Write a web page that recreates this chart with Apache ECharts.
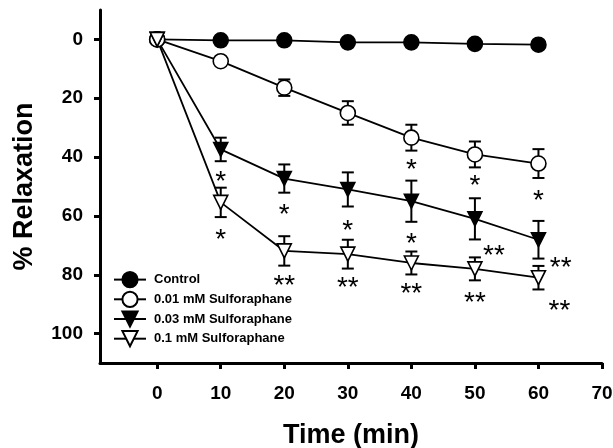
<!DOCTYPE html>
<html>
<head>
<meta charset="utf-8">
<script src="https://cdn.jsdelivr.net/npm/echarts@6/dist/echarts.min.js"></script>
<style>
  html, body { margin: 0; padding: 0; background: #fff; }
  #chart { width: 613px; height: 448px; }
</style>
</head>
<body>
<div id="chart"></div>
<script>
// time points (min)
const times = [0, 10, 20, 30, 40, 50, 60];

// % relaxation means and error bars
const control = [0, 0.3, 0.3, 1, 1, 1.5, 1.8];
const controlErr = [0, 0, 0, 0, 0, 0, 0];
const sfn001 = [0, 7.4, 16.4, 25, 33.4, 39.1, 42.2];
const sfn001Err = [0, 1, 2.8, 4, 4.4, 4.4, 4.9];
const sfn003 = [0, 37.4, 47.3, 51, 55, 61, 68.1];
const sfn003Err = [0, 4, 4.8, 5.8, 7, 7, 6.4];
const sfn01 = [0, 55.4, 71.9, 73, 76, 78, 81];
const sfn01Err = [0, 5, 5, 4.9, 3.9, 3.9, 4];

// significance marks
const starX = [10, 10, 20, 30, 40, 40, 50, 60, 20, 30, 40, 53, 50, 63.5, 63.3];
const starY = [46.4, 66.2, 57.9, 63.1, 42.5, 67.6, 48, 53.1, 81.8, 82.7, 84.7, 71.7, 87.6, 75.9, 90.4];
const starText = ['*', '*', '*', '*', '*', '*', '*', '*', '**', '**', '**', '**', '**', '**', '**'];

const xTicks = [0, 10, 20, 30, 40, 50, 60, 70];
const yTicks = [0, 20, 40, 60, 80, 100];

const FONT = '"Liberation Sans", Arial, sans-serif';

const chart = echarts.init(document.getElementById('chart'));

function pairs(vals) {
  return times.map((t, i) => [t, vals[i]]);
}

function errSeries(vals, errs) {
  return {
    type: 'custom',
    z: 1,
    silent: true,
    data: times.map((t, i) => [t, vals[i], errs[i]]),
    renderItem: function (params, api) {
      const x = api.value(0), y = api.value(1), e = api.value(2);
      if (!e) return null;
      const top = api.coord([x, y - e]);
      const bot = api.coord([x, y + e]);
      const cap = 6;
      const st = { stroke: '#000', lineWidth: 2 };
      return {
        type: 'group',
        children: [
          { type: 'line', shape: { x1: top[0], y1: top[1], x2: bot[0], y2: bot[1] }, style: st },
          { type: 'line', shape: { x1: top[0] - cap, y1: top[1], x2: top[0] + cap, y2: top[1] }, style: st },
          { type: 'line', shape: { x1: bot[0] - cap, y1: bot[1], x2: bot[0] + cap, y2: bot[1] }, style: st }
        ]
      };
    }
  };
}

function lineSeries(name, vals, symbol, fill, rotate) {
  return {
    name: name,
    type: 'line',
    z: 3,
    data: pairs(vals),
    symbol: symbol,
    symbolSize: symbol === 'circle' ? 15 : 14,
    symbolRotate: rotate || 0,
    showSymbol: true,
    lineStyle: { color: '#000', width: 1.8 },
    itemStyle: { color: fill, borderColor: '#000', borderWidth: 1.6 },
    emphasis: { disabled: true }
  };
}

const option = {
  backgroundColor: '#fff',
  animation: false,
  grid: { left: 100, right: 11, top: 10, bottom: 85, outerBoundsMode: 'none' },
  legend: {
    orient: 'vertical',
    left: 113,
    top: 271,
    padding: 0,
    itemWidth: 32,
    itemHeight: 19,
    itemGap: 2.5,
    textStyle: { fontFamily: FONT, fontWeight: 'bold', fontSize: 13, color: '#000', padding: [0, 0, 0, 3] },
    data: ['Control', '0.01 mM Sulforaphane', '0.03 mM Sulforaphane', '0.1 mM Sulforaphane']
  },
  xAxis: {
    type: 'value',
    min: -9,
    max: 70,
    name: 'Time (min)',
    nameLocation: 'middle',
    nameGap: 59,
    nameTextStyle: { fontFamily: FONT, fontWeight: 'bold', fontSize: 27, color: '#000' },
    axisLine: { onZero: false, lineStyle: { color: '#000', width: 3 } },
    axisTick: { show: true, length: 6, lineStyle: { color: '#000', width: 3 }, customValues: xTicks },
    axisLabel: { margin: 21, fontFamily: FONT, fontWeight: 'bold', fontSize: 19, color: '#000', customValues: xTicks },
    splitLine: { show: false }
  },
  yAxis: {
    type: 'value',
    inverse: true,
    min: -10,
    max: 110,
    name: '% Relaxation',
    nameLocation: 'middle',
    nameGap: 62,
    nameTextStyle: { fontFamily: FONT, fontWeight: 'bold', fontSize: 27, color: '#000' },
    axisLine: { show: true, onZero: false, lineStyle: { color: '#000', width: 3 } },
    axisTick: { show: true, length: 6, lineStyle: { color: '#000', width: 3 }, customValues: yTicks },
    axisLabel: { margin: 17, fontFamily: FONT, fontWeight: 'bold', fontSize: 19, color: '#000', customValues: yTicks },
    splitLine: { show: false }
  },
  series: [
    errSeries(control, controlErr),
    errSeries(sfn001, sfn001Err),
    errSeries(sfn003, sfn003Err),
    errSeries(sfn01, sfn01Err),
    lineSeries('Control', control, 'circle', '#000'),
    lineSeries('0.01 mM Sulforaphane', sfn001, 'circle', '#fff'),
    lineSeries('0.03 mM Sulforaphane', sfn003, 'triangle', '#000', 180),
    lineSeries('0.1 mM Sulforaphane', sfn01, 'triangle', '#fff', 180),
    {
      type: 'custom',
      z: 4,
      silent: true,
      data: starX.map((x, i) => [x, starY[i], i]),
      renderItem: function (params, api) {
        const p = api.coord([api.value(0), api.value(1)]);
        return {
          type: 'text',
          x: p[0],
          y: p[1] + 6,
          style: {
            text: starText[api.value(2)],
            font: 'normal 28px ' + FONT,
            fill: '#000',
            align: 'center',
            verticalAlign: 'middle'
          }
        };
      }
    }
  ]
};

chart.setOption(option);
</script>
</body>
</html>
